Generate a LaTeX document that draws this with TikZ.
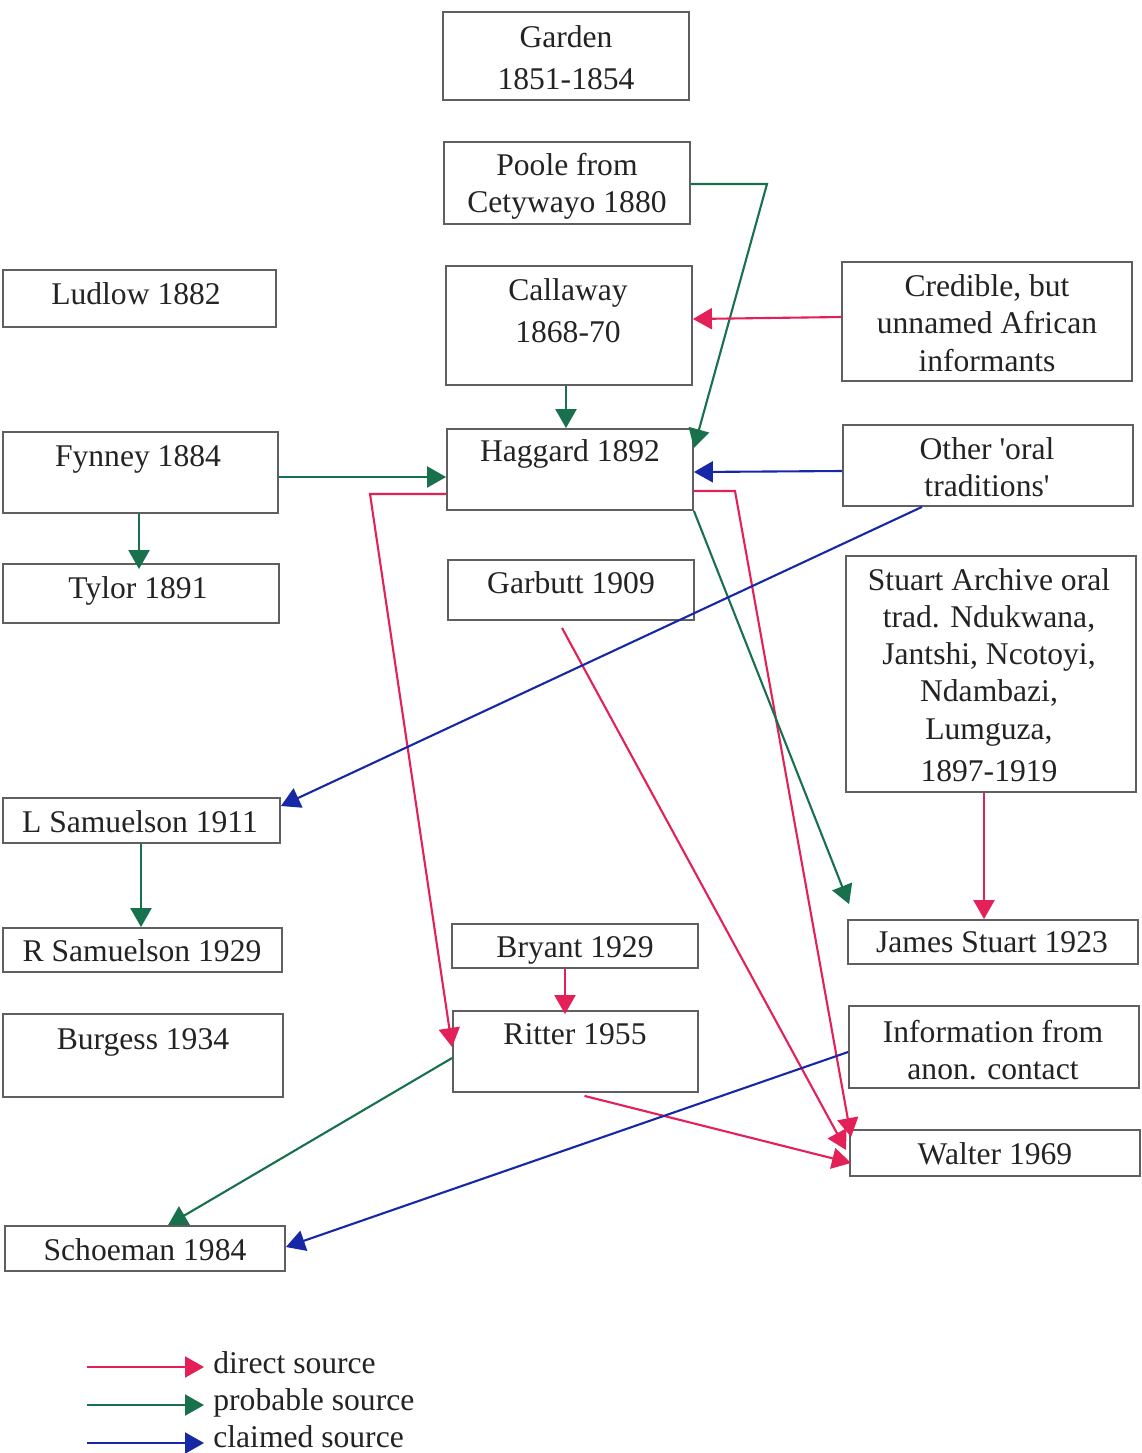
\documentclass[tikz,border=0pt]{standalone}
\usepackage{fontspec}
\setmainfont{Liberation Serif}[Ligatures=TeXOff]
\usetikzlibrary{arrows.meta,fit,calc}
\definecolor{dred}{RGB}{228,32,88}
\definecolor{dgreen}{RGB}{24,112,76}
\definecolor{dblue}{RGB}{22,40,165}
\definecolor{boxgray}{RGB}{95,95,95}
\definecolor{ink}{RGB}{35,35,35}
\newcommand{\diagfont}{\fontsize{15.8pt}{18.6pt}\selectfont}
\tikzset{
  box/.style={draw=boxgray, line width=0.9pt, inner sep=0pt},
  tone/.style={font=\diagfont, text=ink, inner sep=0pt, text height=0.69em, text depth=0.22em, yshift=-2pt},
  tmulti/.style={font=\diagfont, text=ink, inner sep=0pt, align=center},
  conn/.style={line width=1.05pt, -{Triangle[length=9.5pt,width=10.5pt]}},
  direct/.style={conn, draw=dred},
  probable/.style={conn, draw=dgreen},
  claimed/.style={conn, draw=dblue},
}
\begin{document}
\begin{tikzpicture}[x=0.5pt,y=-0.5pt]
\useasboundingbox (0,0) rectangle (1142,1453);
\fill[white] (0,0) rectangle (1142,1453);

% boxes
\node[box, fit={(443,12) (689,100)}] (garden) {};
\node[box, fit={(444,142) (690,224)}] (poole) {};
\node[box, fit={(3,270) (276,327)}] (ludlow) {};
\node[box, fit={(446,266) (692,385)}] (callaway) {};
\node[box, fit={(842,262) (1132,381)}] (credible) {};
\node[box, fit={(3,432) (278,513)}] (fynney) {};
\node[box, fit={(447,429) (693,510)}] (haggard) {};
\node[box, fit={(843,425) (1133,506)}] (oral) {};
\node[box, fit={(3,564) (279,623)}] (tylor) {};
\node[box, fit={(448,560) (694,620)}] (garbutt) {};
\node[box, fit={(846,556) (1136,792)}] (archive) {};
\node[box, fit={(3,798) (280,843)}] (lsam) {};
\node[box, fit={(3,928) (282,972)}] (rsam) {};
\node[box, fit={(452,924) (698,968)}] (bryant) {};
\node[box, fit={(848,920) (1138,964)}] (jstuart) {};
\node[box, fit={(3,1014) (283,1097)}] (burgess) {};
\node[box, fit={(453,1011) (698,1092)}] (ritter) {};
\node[box, fit={(849,1006) (1139,1088)}] (info) {};
\node[box, fit={(850,1130) (1140,1176)}] (walter) {};
\node[box, fit={(5,1226) (285,1271)}] (schoeman) {};

% texts
\node[tmulti] (gardenT) at (566,58) {Garden\\[2.5pt]1851-1854};
\node[tmulti] (pooleT) at (567,186) {Poole from\\Cetywayo 1880};
\node[tone] (ludlowT) at (136,296) {Ludlow 1882};
\node[tmulti] (callawayT) at (568,311) {Callaway\\[2.5pt]1868-70};
\node[tmulti] (credibleT) at (987,323) {Credible, but\\unnamed African\\informants};
\node[tone] (fynneyT) at (138,458) {Fynney 1884};
\node[tone] (haggardT) at (570,453) {Haggard 1892};
\node[tmulti] (oralT) at (987,467) {Other 'oral\\traditions'};
\node[tone] (tylorT) at (138,590) {Tylor 1891};
\node[tone] (garbuttT) at (571,585) {Garbutt 1909};
\node[tmulti] (archiveT) at (989,675) {Stuart Archive oral\\trad. Ndukwana,\\Jantshi, Ncotoyi,\\Ndambazi,\\Lumguza,\\[2.5pt]1897-1919};
\node[tone] (lsamT) at (140,824) {L Samuelson 1911};
\node[tone] (rsamT) at (142,953) {R Samuelson 1929};
\node[tone] (bryantT) at (575,949) {Bryant 1929};
\node[tone] (jstuartT) at (992,944) {James Stuart 1923};
\node[tone] (burgessT) at (143,1041) {Burgess 1934};
\node[tone] (ritterT) at (575,1036) {Ritter 1955};
\node[tmulti] (infoT) at (993,1050) {Information from\\anon. contact};
\node[tone] (walterT) at (995,1156) {Walter 1969};
\node[tone] (schoemanT) at (145,1252) {Schoeman 1984};

% connectors
\coordinate (pbend) at (767,184);
\draw[probable] (poole.east |- 0,184) -- (pbend) -- (haggard.east |- 0,448);
\draw[direct] (credible.west |- 0,317) -- (callaway.east |- 0,319);
\draw[probable] (callaway.south -| 566,0) -- (haggard.north -| 566,0);
\draw[probable] (fynney.east |- 0,477) -- (haggard.west |- 0,477);
\draw[claimed] (oral.west |- 0,471) -- (haggard.east |- 0,472);
\draw[probable] (fynney.south -| 139,0) -- ($(tylor.north -| 139,0)+(0,6)$);
\coordinate (hlbend) at (370,494);
\draw[direct] (haggard.west |- 0,494) -- (hlbend) -- (ritter.west |- 0,1047);
\coordinate (hrbend) at (735,491);
\draw[direct] (haggard.east |- 0,491) -- (hrbend) -- ($(walter.north west)+(2,8)$);
\draw[probable] (haggard.south east) -- ($(jstuart.north west)+(2,-15)$);
\coordinate (gstart) at ($(garbutt.south)+(-9,7)$);
\draw[direct] (gstart) -- ($(walter.west)+(-3,-3)$);
\draw[direct] ($(ritter.south)+(9,3)$) -- ($(walter.west)+(2,10)$);
\draw[claimed] (oral.south -| 922,0) -- (lsam.east |- 0,806);
\draw[probable] (lsam.south -| 141,0) -- (rsam.north -| 141,0);
\draw[direct] (archive.south -| 984,0) -- (jstuart.north -| 984,0);
\draw[direct] (bryant.south -| 565,0) -- ($(ritter.north -| 565,0)+(0,4)$);
\draw[probable] (ritter.west |- 0,1058) -- (schoeman.north -| 168,0);
\draw[claimed] (info.west |- 0,1052) -- (schoeman.east |- 0,1247);

% legend
\coordinate (la1) at (87,1367); \coordinate (lb1) at (204,1367);
\coordinate (la2) at (87,1405); \coordinate (lb2) at (204,1405);
\coordinate (la3) at (87,1443); \coordinate (lb3) at (204,1443);
\draw[direct] (la1) -- (lb1);
\draw[probable] (la2) -- (lb2);
\draw[claimed] (la3) -- (lb3);
\node[tone, anchor=west] (legd) at (213,1365) {direct source};
\node[tone, anchor=west] (legp) at (213,1402) {probable source};
\node[tone, anchor=west] (legc) at (213,1439) {claimed source};
\end{tikzpicture}
\end{document}
